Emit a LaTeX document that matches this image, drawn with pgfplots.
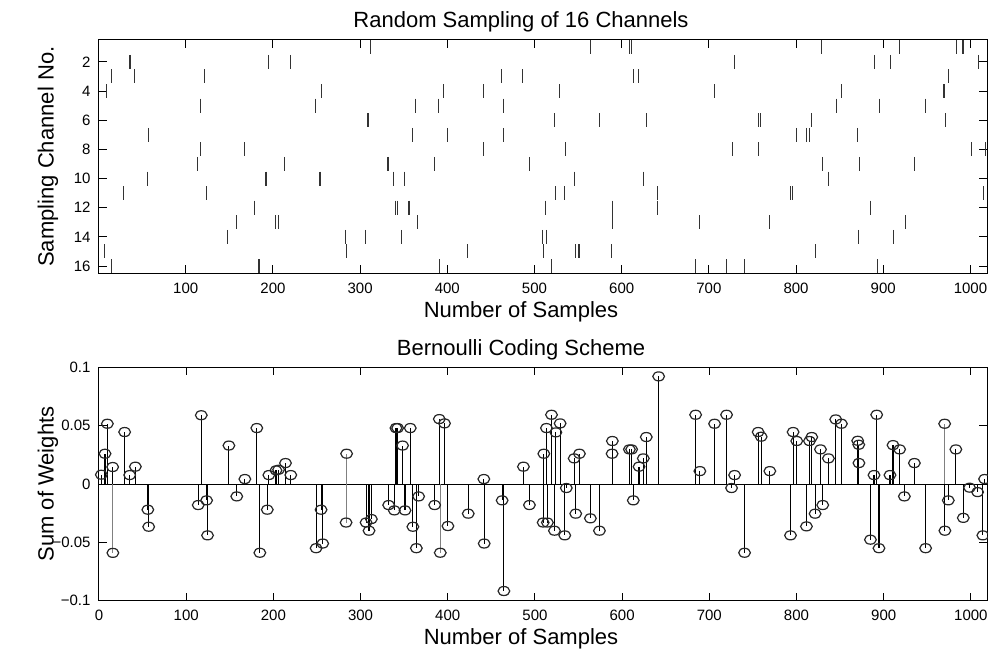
\documentclass[border=0pt]{standalone}
\usepackage{pgfplots}
\pgfplotsset{compat=1.18}
\usepackage{pgfplotstable}
\usepackage{fontspec}
\setmainfont{Liberation Sans}

\pgfplotstableread{
n c
6.5 15
9 4
15 3
15 16
29 11
36 2
41 3
56 10
57 7
113.5 9
117 5
117 8
122 3
124 11
148 14
158 13
167 8
179 12
184 16
192 10
195 2
203 13
206 13
213 9
220 2
249 5
254 10
256 4
283 14
284 15
306 14
309 6
312 1
332 9
338 10
341 12
342.5 12
347.5 14
351 10
356 12
360 7
364 5
366 13
385 9
390 5
391 16
396 4
400 7
423.5 15
441 8
442 4
462 3
464 5
464 7
486 3
494 9
509 14
510 15
513 12
514 14
519.5 16
523 6
524.5 11
529 4
534.4 11
536 8
545.5 10
547 15
551 15
564 1
574.5 6
588 15
589.5 12
589.5 13
608.5 1
611 1
613.5 3
619 3
624.5 10
628.5 6
641.4 11
641.4 12
684.6 16
689.6 13
706 4
720.5 16
726.6 8
729 2
740.4 16
756.4 6
757 8
758.7 6
769.8 13
793.6 11
795.4 11
800.8 7
811.9 7
815.7 7
817.7 6
821.8 15
828.7 1
830.6 9
837.5 10
845.9 5
851.6 4
870.4 7
871.6 14
873 9
885.7 12
890 2
893 16
895.6 5
907.8 2
912 14
918.6 1
925 13
935.8 9
948.7 5
969.7 4
970.9 6
975 3
984 1
991.5 1
1000.7 8
1009.2 2
1015 11
1017.5 8
}\topdata

\pgfplotstableread{
n v
2.7 0.008
6.9 0.026
9.6 0.0517
15.7 0.0146
29.4 0.0446
35.2 0.0077
41.7 0.0149
56 -0.022
57 -0.0366
113.8 -0.018
117.3 0.059
123.4 -0.014
124.5 -0.044
149 0.033
158 -0.0106
167.3 0.0043
181 0.048
184.5 -0.0589
193 -0.022
194.8 0.0077
203 0.0117
206 0.0123
213.9 0.018
220 0.0077
249 -0.055
254.7 -0.022
256.6 -0.051
306.3 -0.033
309.7 -0.040
312.4 -0.030
332.2 -0.018
338.7 -0.0226
340.6 0.048
342.5 0.048
348.2 0.033
351 -0.0226
357 0.048
360 -0.0366
364 -0.055
366.6 -0.0106
385 -0.018
390.3 0.0557
396.3 0.052
400.2 -0.036
423.5 -0.0254
441.4 0.0043
441.8 -0.051
462.4 -0.014
464.4 -0.0917
486.8 0.0149
493.7 -0.018
509.4 -0.033
510.2 0.026
513.2 0.048
514.3 -0.033
519 0.0594
522.4 -0.040
524 0.0443
528.9 0.052
534.2 -0.044
536 -0.0034
545 0.022
546.8 -0.0254
551 0.026
563.6 -0.0294
574 -0.040
588.5 0.026
588.8 0.0369
608.3 0.0297
610.9 0.0297
612.8 -0.014
619.4 0.0149
624.3 0.022
627.7 0.0403
641.9 0.0923
684.3 0.0594
689.2 0.0111
706 0.0517
719.8 0.0594
725.5 -0.0034
729 0.0077
740.4 -0.0589
756 0.0446
759.5 0.0406
769.4 0.0111
793.1 -0.044
796.1 0.0446
800.3 0.0369
811.4 -0.0363
814.9 0.0369
817.5 0.0403
821.3 -0.0254
827.5 0.0297
830.1 -0.018
836.6 0.022
845 0.0554
851.5 0.0517
870.2 0.0371
871.4 0.0337
871.6 0.018
884.8 -0.0477
888.9 0.0077
892 0.0594
894.6 -0.055
907.2 0.0077
910.7 0.0334
918.3 0.0297
923.7 -0.0106
935.2 0.018
948.1 -0.055
970.2 -0.040
974.1 -0.014
982.8 0.0297
991.3 -0.029
998.5 -0.0031
1007.7 -0.0069
1013.7 -0.044
1015.7 0.0043
}\botdata

\pgfplotstableread{
n v
15.9 -0.059
283.4 -0.033
284 0.026
391.4 -0.0589
969.9 0.0517
}\botgray

\begin{document}
\begin{tikzpicture}
\useasboundingbox (0,0) rectangle (988pt,648pt);
\pgfplotsset{
  every axis/.append style={
    scale only axis, width=888pt, height=233.3pt,
    axis line style={black, line width=1pt},
    tick align=inside, major tick length=8pt,
    every tick/.style={black, line width=1pt},
    xtick pos=both, ytick pos=both,
    /pgf/number format/assume math mode=true,
    /pgf/number format/1000 sep={},
    xticklabel style={font=\fontsize{15}{18}\selectfont, yshift=-6pt},
    yticklabel style={font=\fontsize{15}{18}\selectfont, xshift=-5pt},
    title style={font=\fontsize{22}{26}\selectfont, at={([xshift=-22pt,yshift=6pt]axis description cs:0.5,1)}, anchor=base},
    xlabel style={font=\fontsize{22}{26}\selectfont, at={([xshift=-22pt,yshift=-44pt]axis description cs:0.5,0)}, anchor=base},
    ylabel style={font=\fontsize{22}{26}\selectfont, at={([xshift=-51pt]axis description cs:0,0.5)}, anchor=center},
  }
}
\begin{axis}[at={(99pt,374.7pt)}, anchor=south west,
  xmin=0.5, xmax=1019, ymin=0.5, ymax=16.5, y dir=reverse,
  xtick={100,200,...,1000}, ytick={2,4,...,16},
  title={Random Sampling of 16 Channels},
  xlabel={Number of Samples}, ylabel={Sampling Channel No.}]
\addplot[only marks, mark=|, mark size=7pt, mark options={black!80, line width=1.1pt}] table[x=n,y=c]{\topdata};
\end{axis}
\begin{axis}[at={(99pt,47.3pt)}, anchor=south west,
  xmin=0, xmax=1018.5, ymin=-0.1, ymax=0.1,
  xtick={0,100,...,1000}, ytick={-0.1,-0.05,0,0.05,0.1},
  yticklabels={−0.1,−0.05,0,0.05,0.1},
  title={Bernoulli Coding Scheme},
  xlabel={Number of Samples}, ylabel={Sum of Weights}]
\addplot[black, line width=1pt] coordinates {(0,0) (1018.5,0)};
\addplot[ycomb, black!50, line width=1.1pt, mark=o, mark size=4.5pt, mark options={black!85, xscale=1.3, line width=1.2pt}] table[x=n,y=v]{\botgray};
\addplot[ycomb, black, line width=1.1pt, mark=o, mark size=4.5pt, mark options={black!85, xscale=1.3, line width=1.2pt}] table[x=n,y=v]{\botdata};
\end{axis}
\end{tikzpicture}
\end{document}
